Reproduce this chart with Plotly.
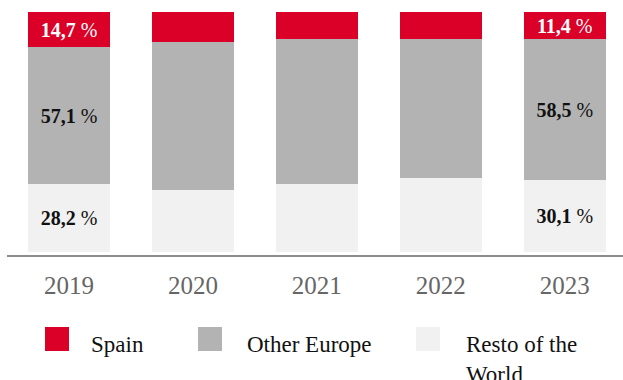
import plotly.graph_objects as go

# Share of revenue by region, per year (%)
years = ["2019", "2020", "2021", "2022", "2023"]
spain = [14.7, 12.5, 11.4, 11.4, 11.4]
other_europe = [57.1, 61.5, 60.4, 57.6, 58.5]
rest_world = [28.2, 26.0, 28.2, 31.0, 30.1]

series_names = ["Spain", "Other Europe", "Resto of the<br>World"]
series_colors = ["#DA0027", "#B3B3B3", "#F1F1F1"]
text_colors = ["#FFFFFF", "#111111", "#111111"]

# Only the first and last year carry value labels
labelled_years = {"2019", "2023"}


def labels(values):
    return [f"<b>{v:.1f}</b> %".replace(".", ",") if y in labelled_years else ""
            for y, v in zip(years, values)]


W, H = 623, 380
ML, MR, MT, MB = 7, 0, 12, 125

fig = go.Figure()
# stack bottom-up: rest of the world, other Europe, Spain
for vals, name, col, tcol in [
    (rest_world, series_names[2], series_colors[2], text_colors[2]),
    (other_europe, series_names[1], series_colors[1], text_colors[1]),
    (spain, series_names[0], series_colors[0], text_colors[0]),
]:
    fig.add_trace(go.Bar(
        x=years, y=vals, name=name, marker=dict(color=col, line=dict(width=0)),
        text=labels(vals), textposition="inside", insidetextanchor="middle",
        textangle=0, constraintext="none",
        textfont=dict(family="Liberation Serif", size=20, color=tcol),
        showlegend=False, hoverinfo="skip",
    ))

# Legend drawn as squares plus captions below the axis
PW = W - ML - MR
PH = H - MT - MB


def px_x(x):
    return (x - ML) / PW


def px_y(y):
    return (H - MB - y) / PH


legend_sq = [(45, 327), (198, 327), (416, 327)]
legend_tx = [89, 245, 464]
for (sx, sy), tx, name, col in zip(legend_sq, legend_tx, series_names, series_colors):
    fig.add_shape(type="rect", xref="paper", yref="paper",
                  x0=px_x(sx), x1=px_x(sx + 24), y0=px_y(sy + 24), y1=px_y(sy),
                  fillcolor=col, line=dict(width=0))
    fig.add_annotation(xref="paper", yref="paper", x=px_x(tx), y=px_y(330),
                       xanchor="left", yanchor="top", align="left",
                       text=name, showarrow=False,
                       font=dict(family="Liberation Serif", size=23, color="#111111"))

fig.update_layout(
    width=W, height=H,
    margin=dict(l=ML, r=MR, t=MT, b=MB, pad=0),
    barmode="stack", bargap=0.34,
    plot_bgcolor="white", paper_bgcolor="white",
    uniformtext=dict(mode=False),
    xaxis=dict(
        type="category", range=[-0.5, 4.47],
        showline=True, linecolor="#8C8C8C", linewidth=2,
        showgrid=False, zeroline=False, ticks="", ticklabelstandoff=7,
        tickfont=dict(family="Liberation Serif", size=25, color="#666666"),
        fixedrange=True,
    ),
    yaxis=dict(range=[-1.25, 100], visible=False, showgrid=False, fixedrange=True),
)

fig.write_html("out.html")
